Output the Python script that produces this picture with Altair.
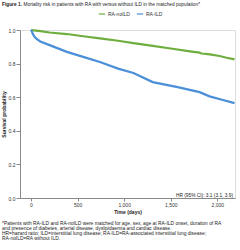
import altair as alt
import pandas as pd

FONT = "Liberation Sans"

# Kaplan-Meier curves
days_noild = [0, 30, 100, 200, 385, 560, 740, 935, 1100, 1307, 1500, 1707, 1810, 1830, 1920, 2025, 2100, 2185]
surv_noild = [1.0, 0.998, 0.993, 0.985, 0.976, 0.963, 0.95, 0.936, 0.922, 0.905, 0.89, 0.873, 0.865, 0.86, 0.855, 0.845, 0.835, 0.825]

days_ild = [0, 10, 21, 40, 64, 100, 200, 385, 560, 740, 935, 1100, 1307, 1575, 1810, 1917, 2050, 2185]
surv_ild = [1.0, 0.99, 0.975, 0.958, 0.946, 0.932, 0.91, 0.87, 0.84, 0.81, 0.77, 0.744, 0.69, 0.66, 0.63, 0.605, 0.585, 0.565]

groups = ["RA-noILD", "RA-ILD"]
colors = ["#6fae3e", "#4a8fd8"]
x_ticks = [0, 500, 1000, 1500, 2000]
y_ticks = [0.0, 0.2, 0.4, 0.6, 0.8, 1.0]

title_bold = "Figure 1."
title_text = "Mortality risk in patients with RA with versus without ILD in the matched population*"
hr_text = "HR (95% CI): 3.1 (3.1, 3.9)"
footnotes = [
    "*Patients with RA-ILD and RA-noILD were matched for age, sex, age at RA-ILD onset, duration of RA",
    "and presence of diabetes, arterial disease, dyslipidaemia and cardiac disease.",
    "HR=hazard ratio; ILD=interstitial lung disease; RA-ILD=RA-associated interstitial lung disease;",
    "RA-noILD=RA without ILD.",
]

df = pd.concat([
    pd.DataFrame({"day": days_noild, "surv": surv_noild, "group": groups[0]}),
    pd.DataFrame({"day": days_ild, "surv": surv_ild, "group": groups[1]}),
])

W, H = 215, 168

lines = alt.Chart(df).mark_line(strokeWidth=2.2).encode(
    x=alt.X("day:Q", scale=alt.Scale(domain=[-118, 2190], nice=False, zero=False),
            axis=alt.Axis(values=x_ticks, title="Time (days)", tickSize=3, labelFontSize=5,
                          titleFontSize=5, titleFontWeight="bold", labelPadding=1, titlePadding=2,
                          labelFont=FONT, titleFont=FONT, grid=False, domainColor="#888",
                          tickColor="#888", labelColor="#333", titleColor="#222")),
    y=alt.Y("surv:Q", scale=alt.Scale(domain=[0, 1], nice=False),
            axis=alt.Axis(values=y_ticks, format=".1f", title="Survival probability", tickSize=4,
                          labelFontSize=5, titleFontSize=5, titleFontWeight="bold", labelPadding=1,
                          titlePadding=2, labelFont=FONT, titleFont=FONT, grid=False,
                          domainColor="#888", tickColor="#888", labelColor="#333", titleColor="#222")),
    color=alt.Color("group:N", scale=alt.Scale(domain=groups, range=colors),
                    legend=alt.Legend(orient="none", legendX=78, legendY=-20, direction="horizontal",
                                      title=None, symbolType="stroke", symbolSize=40,
                                      symbolStrokeWidth=1.2, labelFontSize=5, labelFont=FONT,
                                      labelColor="#333", columnPadding=4, labelOffset=2)),
    detail="group:N",
)

tb_df = pd.DataFrame({"t": [title_bold]})
title_b = alt.Chart(tb_df).mark_text(align="left", baseline="middle", fontSize=4.8, font=FONT,
                                     fontWeight="bold", color="#222").encode(
    text="t:N", x=alt.value(-18), y=alt.value(-25))

title_df = pd.DataFrame({"t": [title_text]})
title = alt.Chart(title_df).mark_text(align="left", baseline="middle", fontSize=4.8, font=FONT,
                                      color="#222").encode(
    text="t:N", x=alt.value(3.5), y=alt.value(-25))

hr_df = pd.DataFrame({"t": [hr_text]})
hr = alt.Chart(hr_df).mark_text(align="right", baseline="middle", fontSize=4.8, font=FONT,
                                color="#222").encode(
    text="t:N", x=alt.value(213), y=alt.value(166))

fn_df = pd.DataFrame({"t": footnotes, "i": list(range(len(footnotes)))})
fn = alt.Chart(fn_df).mark_text(align="left", baseline="middle", fontSize=4.9, font=FONT,
                                color="#222").encode(
    text="t:N", x=alt.value(-18),
    y=alt.Y("i:O", scale=alt.Scale(domain=list(range(len(footnotes))), range=[191, 212]), axis=None))

chart = alt.layer(lines, title_b, title, hr, fn).resolve_scale(y="independent").properties(
    width=W, height=H,
    autosize=alt.AutoSizeParams(type="none"),
    padding={"left": 20, "top": 30, "right": 5, "bottom": 52},
).configure_view(stroke=None).configure(background="white")

chart.save("out.html", embed_options={"renderer": "svg", "actions": False})
